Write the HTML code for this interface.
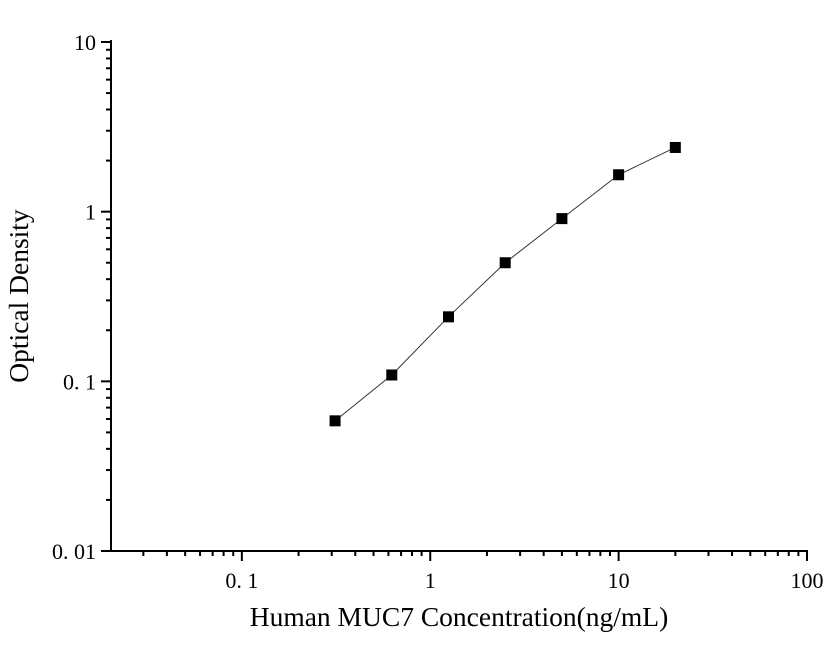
<!DOCTYPE html>
<html><head><meta charset="utf-8"><style>
body{margin:0;background:#fff;}
svg text{font-family:"Liberation Serif",serif;fill:#000;}
</style></head><body>
<svg id="chart" width="833" height="644" xmlns="http://www.w3.org/2000/svg">
<g id="axes"></g>
<g id="marks"></g>
<text x="459" y="626" font-size="27.5" text-anchor="middle">Human MUC7 Concentration(ng/mL)</text>
<text transform="translate(28,296) rotate(-90)" font-size="27.5" text-anchor="middle">Optical Density</text>
</svg>
<script>
const concentrations=[0.3125,0.625,1.25,2.5,5,10,20];
const odValues=[0.0585,0.109,0.24,0.50,0.91,1.65,2.39];
const xTickLabels=["0. 1","1","10","100"];
const xTickValues=[0.1,1,10,100];
const yTickLabels=["0. 01","0. 1","1","10"];
const yTickValues=[0.01,0.1,1,10];

const NS="http://www.w3.org/2000/svg";
const X0=111,X1=807,xmin=Math.log10(0.0202),xmax=2;
const Y0=551,Y1=42,ymin=-2,ymax=1;
function xs(v){return X0+(Math.log10(v)-xmin)/(xmax-xmin)*(X1-X0);}
function ys(v){return Y0-(Math.log10(v)-ymin)/(ymax-ymin)*(Y0-Y1);}
function mk(t,a,p){const e=document.createElementNS(NS,t);for(const k in a)e.setAttribute(k,a[k]);p.appendChild(e);return e;}
const ax=document.getElementById('axes');
let e;
e=mk('line',{x1:X0,y1:Y1-2,x2:X0,y2:Y0+1,stroke:'#000','stroke-width':2},ax);


e=mk('line',{x1:X0-10,y1:Y0,x2:X1+1,y2:Y0,stroke:'#000','stroke-width':2},ax);


for(let d=-2;d<2;d++){for(let m=1;m<10;m++){const v=m*Math.pow(10,d);if(Math.log10(v)<xmin-1e-9)continue;const x=xs(v);
 e=mk('line',{x1:x,y1:Y0,x2:x,y2:Y0+(m==1?10:5),stroke:'#000','stroke-width':2},ax);
 
 }}
e=mk('line',{x1:X1,y1:Y0,x2:X1,y2:Y0+10,stroke:'#000','stroke-width':2},ax);


xTickValues.forEach((v,i)=>{e=mk('text',{x:xs(v),y:588,'font-size':22,'text-anchor':'middle'},ax);e.textContent=xTickLabels[i];
 
 });
for(let d=-2;d<1;d++){for(let m=1;m<10;m++){const v=m*Math.pow(10,d);const y=ys(v);
 e=mk('line',{x1:X0-(m==1?10:5),y1:y,x2:X0,y2:y,stroke:'#000','stroke-width':2},ax);
 
 }}
e=mk('line',{x1:X0-10,y1:Y1,x2:X0,y2:Y1,stroke:'#000','stroke-width':2},ax);


yTickValues.forEach((v,i)=>{e=mk('text',{x:96,y:ys(v)+8,'font-size':22,'text-anchor':'end'},ax);e.textContent=yTickLabels[i];
 
 });
const mg=document.getElementById('marks');
const pts=concentrations.map((c,i)=>xs(c)+','+ys(odValues[i])).join(' ');
e=mk('polyline',{points:pts,fill:'none',stroke:'#333','stroke-width':1},mg);


concentrations.forEach((c,i)=>{e=mk('rect',{x:xs(c)-5.5,y:ys(odValues[i])-5.5,width:11,height:11,fill:'#000'},mg);
 
 });
</script>
</body></html>
